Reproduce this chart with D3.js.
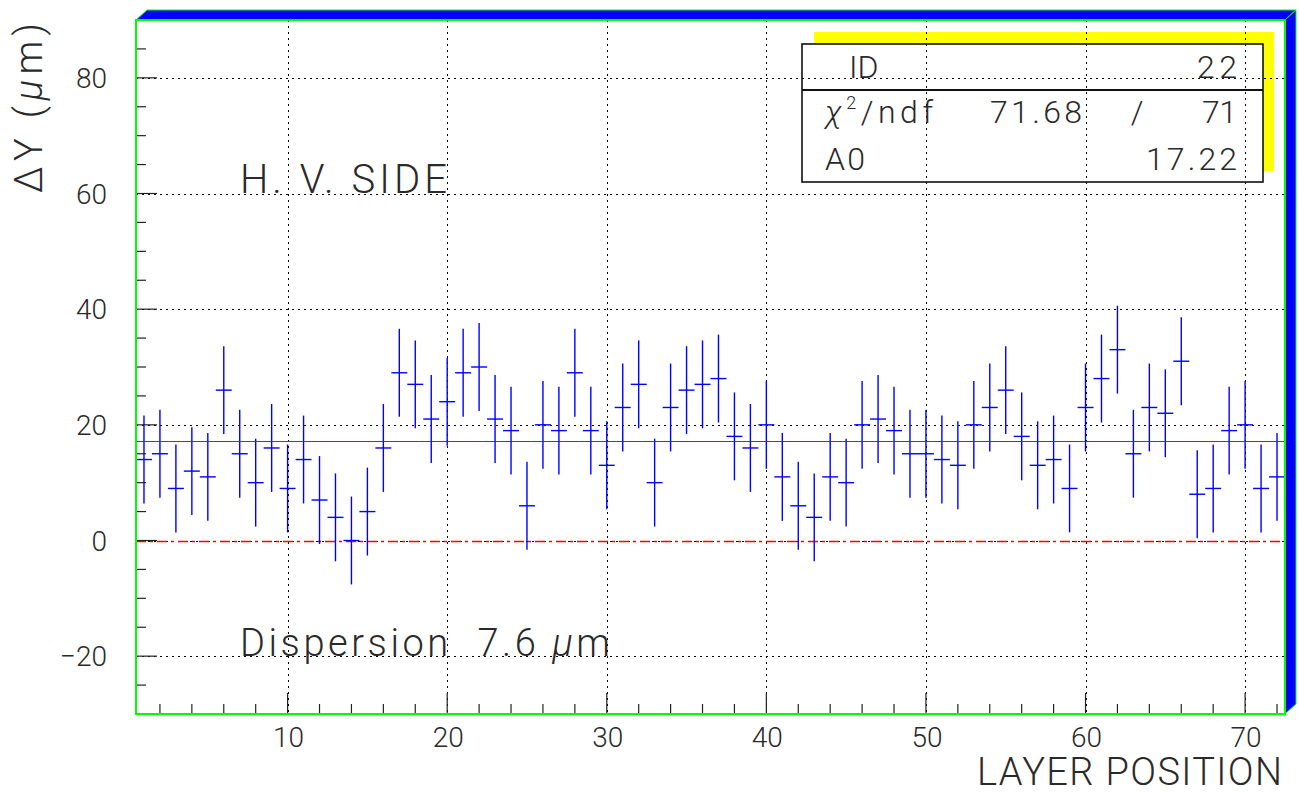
<!DOCTYPE html>
<html>
<head>
<meta charset="utf-8">
<script src="https://cdn.jsdelivr.net/npm/d3@7"></script>
<style>
  html, body { margin: 0; padding: 0; background: #fff; }
  svg { display: block; }
  text { font-family: Roboto, "DejaVu Sans", sans-serif; font-weight: 300; fill: #2a2a2a; white-space: pre; }
</style>
</head>
<body>
<svg width="1299" height="793"></svg>
<script>
// Measured residuals per layer (1..72), micrometres
const deltaY = [
  14, 15, 9, 12, 11, 26, 15, 10, 16, 9,
  14, 7, 4, 0, 5, 16, 29, 27, 21, 24,
  29, 30, 21, 19, 6, 20, 19, 29, 19, 13,
  23, 27, 10, 23, 26, 27, 28, 18, 16, 20,
  11, 6, 4, 11, 10, 20, 21, 19, 15, 15,
  14, 13, 20, 23, 26, 18, 13, 14, 9, 23,
  28, 33, 15, 23, 22, 31, 8, 9, 19, 20, 9, 11
];
const sigma = 7.6;          // error bar half-length
const fitA0 = 17.22;        // constant fit
const xTicks = [10, 20, 30, 40, 50, 60, 70];
const yTicks = [-20, 0, 20, 40, 60, 80];
const statRows = [
  { label: "ID", value: "22" },
  { label: "chi", value: "71.68", ndf: "71" },
  { label: "A0", value: "17.22" }
];

const svg = d3.select("svg");
const pL = 136, pR = 1285, pT = 20, pB = 714;
const depthX = 11, depthY = 10;

const x = d3.scaleLinear().domain([0.5, 72.5]).range([pL, pR]);
const y = d3.scaleLinear().domain([-30, 90]).range([pB, pT]);
const crisp = v => Math.round(v) + 0.5;

// 3D frame bands
svg.append("polygon")
  .attr("points", [[pL, pT], [pL + depthX, pT - depthY], [pR + depthX, pT - depthY], [pR, pT]].join(" "))
  .attr("fill", "#0000ff").attr("stroke", "#00ff00").attr("stroke-width", 1);
svg.append("polygon")
  .attr("points", [[pR, pT], [pR + depthX, pT - depthY], [pR + depthX, pB - depthY], [pR, pB]].join(" "))
  .attr("fill", "#0000ff").attr("stroke", "#00ff00").attr("stroke-width", 1);

// Stats box shadow + body (grid is drawn over it)
const box = { x0: 802, x1: 1263, y0: 44, y1: 182, div: 90 };
svg.append("rect")
  .attr("x", 814).attr("y", 32).attr("width", 1274 - 814).attr("height", 171 - 32)
  .attr("fill", "#ffff00");
svg.append("rect")
  .attr("x", box.x0).attr("y", box.y0).attr("width", box.x1 - box.x0).attr("height", box.y1 - box.y0)
  .attr("fill", "#fff");

// Grid
const grid = svg.append("g").attr("stroke", "#000").attr("stroke-width", 1).attr("stroke-dasharray", "2,4");
grid.selectAll(null).data(xTicks).enter().append("line")
  .attr("x1", d => crisp(x(d))).attr("x2", d => crisp(x(d)))
  .attr("y1", pT).attr("y2", pB);
grid.selectAll(null).data(yTicks).enter().append("line")
  .attr("x1", pL).attr("x2", pR)
  .attr("y1", d => crisp(y(d))).attr("y2", d => crisp(y(d)));

// Zero reference (dash-dot red) and fit line
svg.append("line")
  .attr("x1", pL).attr("x2", pR)
  .attr("y1", crisp(y(0))).attr("y2", crisp(y(0)))
  .attr("stroke", "#ff0000").attr("stroke-width", 1.5).attr("stroke-dasharray", "10,4,3,4");
svg.append("line")
  .attr("x1", pL).attr("x2", pR)
  .attr("y1", crisp(y(fitA0))).attr("y2", crisp(y(fitA0)))
  .attr("stroke", "#ff0000").attr("stroke-width", 1);

// Ticks
const ticks = svg.append("g").attr("stroke", "#222").attr("stroke-width", 1.2);
const yMinor = d3.range(-25, 90, 5);
ticks.selectAll(null).data(yMinor).enter().append("line")
  .attr("x1", pL).attr("x2", d => pL + (d % 20 === 0 ? 21 : 10))
  .attr("y1", d => y(d)).attr("y2", d => y(d));
const xMinor = d3.range(2, 73, 2);
ticks.selectAll(null).data(xMinor).enter().append("line")
  .attr("x1", d => x(d)).attr("x2", d => x(d))
  .attr("y1", pB).attr("y2", d => pB - (d % 10 === 0 ? 21 : 10));

// Data points with error bars
const pts = svg.append("g").attr("stroke", "#0000ff").attr("stroke-width", 1.4);
deltaY.forEach((v, i) => {
  const layer = i + 1;
  pts.append("line")
    .attr("x1", x(layer)).attr("x2", x(layer))
    .attr("y1", y(v - sigma)).attr("y2", y(v + sigma));
  pts.append("line")
    .attr("x1", x(layer - 0.5)).attr("x2", x(layer + 0.5))
    .attr("y1", y(v)).attr("y2", y(v));
});

// Axis lines (green)
svg.append("path")
  .attr("d", `M${pL},${pT} L${pL},${pB} L${pR},${pB} L${pR},${pT} Z`)
  .attr("fill", "none").attr("stroke", "#00ff00").attr("stroke-width", 2);

// Tick labels
svg.selectAll(null).data(yTicks).enter().append("text")
  .attr("x", 107).attr("y", d => y(d) + 10)
  .attr("text-anchor", "end").attr("font-size", 28)
  .text(d => d < 0 ? "\u2212" + Math.abs(d) : d);
svg.selectAll(null).data(xTicks).enter().append("text")
  .attr("x", d => x(d) + 1).attr("y", 747)
  .attr("text-anchor", "middle").attr("font-size", 28)
  .text(d => d);

// Axis titles
svg.append("text")
  .attr("x", 977).attr("y", 785)
  .attr("font-size", 38)
  .attr("textLength", 305).attr("lengthAdjust", "spacing")
  .text("LAYER POSITION");
const yTitle = svg.append("text")
  .attr("transform", "translate(42,193) rotate(-90)")
  .attr("font-size", 38)
  .attr("textLength", 170).attr("lengthAdjust", "spacing");
yTitle.append("tspan").text("\u0394Y (");
yTitle.append("tspan").attr("font-style", "italic").text("\u03bc");
yTitle.append("tspan").text("m)");

// Annotations
svg.append("text")
  .attr("x", 240).attr("y", 193).attr("font-size", 40)
  .attr("textLength", 207).attr("lengthAdjust", "spacing")
  .text("H. V. SIDE");
const disp = svg.append("text")
  .attr("x", 240).attr("y", 656).attr("font-size", 38)
  .attr("textLength", 370).attr("lengthAdjust", "spacing");
disp.append("tspan").text("Dispersion  7.6 ");
disp.append("tspan").attr("font-style", "italic").text("\u03bc");
disp.append("tspan").text("m");

// Stats box border and text
svg.append("rect")
  .attr("x", box.x0).attr("y", box.y0).attr("width", box.x1 - box.x0).attr("height", box.y1 - box.y0)
  .attr("fill", "none").attr("stroke", "#111").attr("stroke-width", 1.6);
svg.append("line")
  .attr("x1", box.x0).attr("x2", box.x1).attr("y1", box.div).attr("y2", box.div)
  .attr("stroke", "#111").attr("stroke-width", 2);

const rowBase = [78, 123, 170];
const st = svg.append("g").attr("font-size", 32);
const stText = (x0, yb, len, txt) => st.append("text").attr("x", x0).attr("y", yb)
  .attr("textLength", len).attr("lengthAdjust", "spacing").text(txt);

st.append("text").attr("x", 849).attr("y", rowBase[0]).text(statRows[0].label);
stText(1197, rowBase[0], 40, statRows[0].value);

const chi = st.append("text").attr("x", 825).attr("y", rowBase[1])
  .attr("textLength", 108).attr("lengthAdjust", "spacing");
chi.append("tspan").attr("font-style", "italic").text("\u03c7");
chi.append("tspan").attr("font-size", 18).attr("dy", -14).text("2");
chi.append("tspan").attr("dy", 14).text("/ndf");
stText(990, rowBase[1], 92, statRows[1].value);
st.append("text").attr("x", 1137).attr("y", rowBase[1]).attr("text-anchor", "middle").text("/");
stText(1202, rowBase[1], 35, statRows[1].ndf);

stText(825, rowBase[2], 40, statRows[2].label);
stText(1146, rowBase[2], 91, statRows[2].value);
</script>
</body>
</html>
